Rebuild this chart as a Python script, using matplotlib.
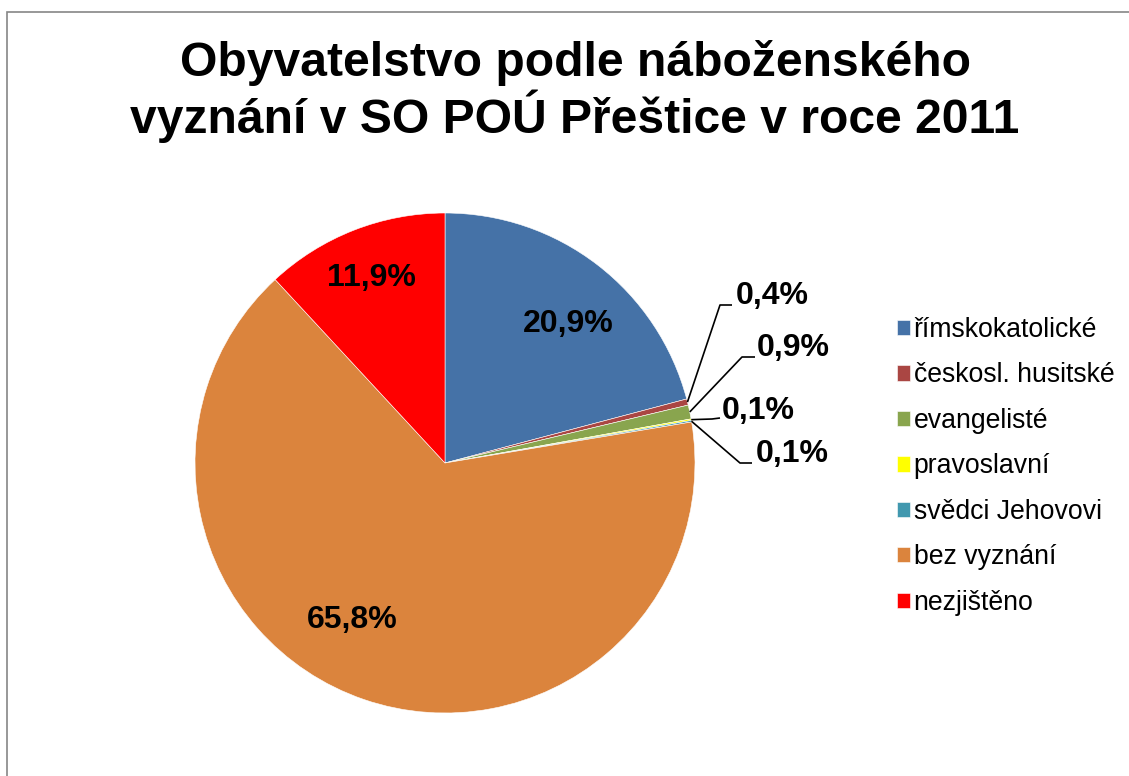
import matplotlib
matplotlib.use("Agg")
import matplotlib.pyplot as plt
from matplotlib.patches import Rectangle
import numpy as np

plt.rcParams['font.family'] = ['Liberation Sans', 'DejaVu Sans']

categories = ["římskokatolické", "českosl. husitské", "evangelisté", "pravoslavní",
              "svědci Jehovovi", "bez vyznání", "nezjištěno"]
values = [20.9, 0.4, 0.9, 0.1, 0.1, 65.8, 11.9]
labels = ["20,9%", "0,4%", "0,9%", "0,1%", "0,1%", "65,8%", "11,9%"]
colors = ["#4572A7", "#AA4643", "#89A54E", "#FFFF00", "#4198AF", "#DB843D", "#FF0000"]
title = "Obyvatelstvo podle náboženského\nvyznání v SO POÚ Přeštice v roce 2011"

W, H = 1129, 776
fig = plt.figure(figsize=(W / 100, H / 100), dpi=100)

# border
fig.patches.append(Rectangle((7 / W, -0.1), 1.2, (776 - 12) / H + 0.1, transform=fig.transFigure,
                             fill=False, edgecolor="#868686", linewidth=1.2))

cx, cy, R = 445, 463, 250
ax = fig.add_axes([(cx - R) / W, (H - cy - R) / H, 2 * R / W, 2 * R / H])

wedges, _ = ax.pie(values, colors=colors, startangle=90, counterclock=False, radius=1,
                   wedgeprops=dict(edgecolor='white', linewidth=0.4))
ax.set_xlim(-1, 1)
ax.set_ylim(-1, 1)
ax.set_aspect('equal')
ax.axis('off')

def px(x, y):
    return ((x - cx) / R, (cy - y) / R)

LFS = 23
# inside labels (large slices)
inside_pos = {0: (568, 324), 5: (352, 620), 6: (371, 278)}
for i, (x, y) in inside_pos.items():
    ax.text(*px(x, y), labels[i], ha='center', va='center', fontsize=LFS, fontweight='bold')

# outside labels with leaders: (elbow, end, text_left, text_center_y)
outside = {
    1: ((720, 305), (732, 305), 736, 296),
    2: ((742, 357), (755, 357), 757, 348),
    3: ((712, 419), (720, 418), 722, 411),
    4: ((740, 463), (752, 463), 756, 454),
}
for i, (elbow, end, tx, ty) in outside.items():
    w = wedges[i]
    ang = np.deg2rad((w.theta1 + w.theta2) / 2)
    sx, sy = np.cos(ang), np.sin(ang)
    ex, ey = px(*elbow)
    nx, ny = px(*end)
    ax.plot([sx, ex, nx], [sy, ey, ny], color='black', linewidth=1.2, clip_on=False,
            solid_capstyle='butt')
    ax.text(*px(tx, ty), labels[i], ha='left', va='center', fontsize=LFS, fontweight='bold')

fig.text(575 / W, 1 - 40 / H, title, ha='center', va='top', fontsize=34.6, fontweight='bold',
         linespacing=1.09)

leg = fig.legend(wedges, categories, loc='upper left', bbox_to_anchor=(897 / W, 1 - 317 / H),
                 frameon=False, fontsize=19.2, handlelength=0.5, handleheight=0.5,
                 handletextpad=0.12, labelspacing=0.73, borderaxespad=0, borderpad=0)

fig.savefig("out.png", dpi=100)
